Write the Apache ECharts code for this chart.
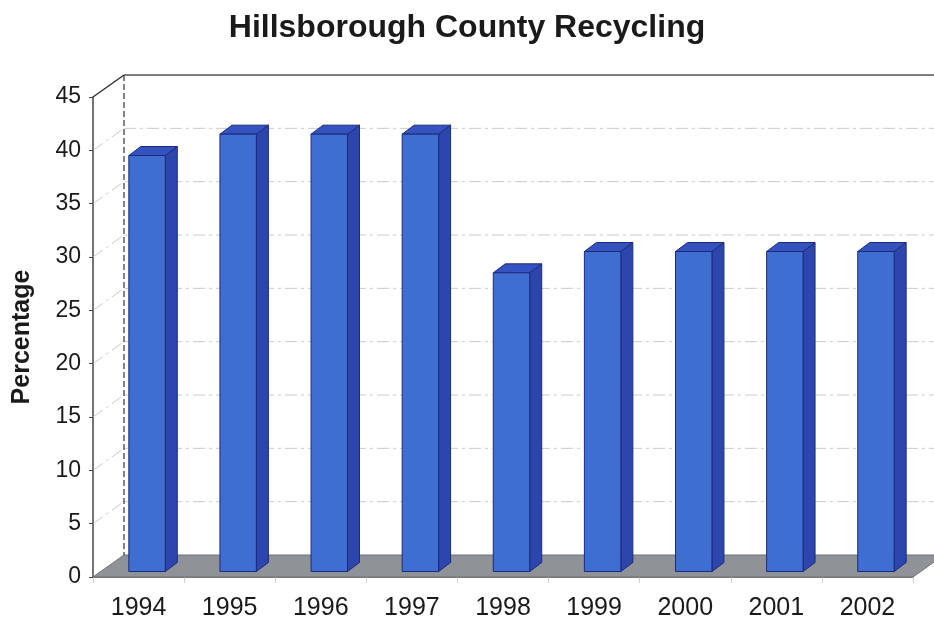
<!DOCTYPE html>
<html>
<head>
<meta charset="utf-8">
<title>Hillsborough County Recycling</title>
<script src="https://cdn.jsdelivr.net/npm/echarts@6/dist/echarts.min.js"></script>
<style>
  html, body { margin: 0; padding: 0; background: #ffffff; }
  #chart { width: 934px; height: 621px; }
</style>
</head>
<body>
<div id="chart"></div>
<script>
// Recycling rate by year (percent)
const years = ['1994', '1995', '1996', '1997', '1998', '1999', '2000', '2001', '2002'];
const recyclingRate = [39, 41, 41, 41, 28, 30, 30, 30, 30];
// Value-axis ticks
const yTicks = [0, 5, 10, 15, 20, 25, 30, 35, 40, 45];

// Oblique projection used for the box walls and the column depth
const WALL_DX = 31, WALL_DY = -22;      // full depth of the chart box
const BAR_SHIFT_X = 8.5;                 // columns sit a little way into the box
const BAR_SHIFT_Y = -5.5;
const BAR_DX = 12, BAR_DY = -9;          // depth of a single column

const FONT = '"Liberation Sans", Arial, Helvetica, sans-serif';
const gridStyle = { stroke: '#b4b4b4', lineWidth: 1, lineDash: [12, 4, 3, 4], opacity: 0.7 };

const chart = echarts.init(document.getElementById('chart'), null, { renderer: 'canvas' });

// Walls: side-wall and back-wall gridlines for every tick, plus floor and edges
function renderGridlines(params, api) {
  const v = api.value(0);
  const cs = params.coordSys;
  const left = cs.x, right = cs.x + cs.width;
  const y = api.coord([0, v])[1];
  const children = [];
  const maxV = yTicks[yTicks.length - 1];
  if (v > 0 && v < maxV) {
    children.push({ type: 'line', shape: { x1: left, y1: y, x2: left + WALL_DX, y2: y + WALL_DY }, style: gridStyle });
    children.push({ type: 'line', shape: { x1: left + WALL_DX, y1: y + WALL_DY, x2: right + WALL_DX, y2: y + WALL_DY }, style: gridStyle });
  }
  if (v === maxV) {
    // top edges of the side wall and back wall
    children.push({ type: 'line', shape: { x1: left, y1: y, x2: left + WALL_DX, y2: y + WALL_DY }, style: { stroke: '#333', lineWidth: 1.5 } });
    children.push({ type: 'line', shape: { x1: left + WALL_DX, y1: y + WALL_DY, x2: right + WALL_DX, y2: y + WALL_DY }, style: { stroke: '#555', lineWidth: 1.5 } });
    // back corner edge
    const y0 = api.coord([0, 0])[1];
    children.push({ type: 'line', shape: { x1: left + WALL_DX, y1: y + WALL_DY, x2: left + WALL_DX, y2: y0 + WALL_DY }, style: { stroke: '#333', lineWidth: 1.2, lineDash: [6, 3] } });
  }
  if (v === 0) {
    // floor
    children.push({
      type: 'polygon',
      shape: { points: [[left, y], [right, y], [right + WALL_DX, y + WALL_DY], [left + WALL_DX, y + WALL_DY]] },
      style: { fill: '#8f9296', stroke: '#6f7175', lineWidth: 1 }
    });
  }
  return { type: 'group', children };
}

// Columns: front, side and top faces
function renderColumn(params, api) {
  const idx = api.value(0);
  const val = api.value(1);
  const base = api.coord([idx, 0]);
  const top = api.coord([idx, val]);
  const bw = api.size([1, 0])[0] * 0.4;
  const x = base[0] + BAR_SHIFT_X - bw / 2;
  const yb = base[1] + BAR_SHIFT_Y;
  const yt = top[1] + BAR_SHIFT_Y;
  const edge = '#1d2a7a';
  return {
    type: 'group',
    children: [
      {
        type: 'polygon',
        shape: { points: [[x + bw, yt], [x + bw + BAR_DX, yt + BAR_DY], [x + bw + BAR_DX, yb + BAR_DY], [x + bw, yb]] },
        style: { fill: '#2d46ad', stroke: edge, lineWidth: 1 }
      },
      {
        type: 'polygon',
        shape: { points: [[x, yt], [x + BAR_DX, yt + BAR_DY], [x + bw + BAR_DX, yt + BAR_DY], [x + bw, yt]] },
        style: { fill: '#3553c0', stroke: edge, lineWidth: 1 }
      },
      {
        type: 'rect',
        shape: { x: x, y: yt, width: bw, height: yb - yt },
        style: { fill: '#3f6ed2', stroke: edge, lineWidth: 1 }
      }
    ]
  };
}

chart.setOption({
  backgroundColor: '#ffffff',
  animation: false,
  title: {
    text: 'Hillsborough County Recycling',
    left: 'center',
    top: 7,
    textStyle: { fontFamily: FONT, fontSize: 32, fontWeight: 'bold', color: '#1a1a1a' }
  },
  grid: { left: 93, right: 21, top: 97, bottom: 44 },
  xAxis: {
    type: 'category',
    data: years,
    boundaryGap: true,
    axisLine: { show: true, lineStyle: { color: '#555', width: 1.5 } },
    axisTick: { show: true, length: 6, lineStyle: { color: '#d0d0d0' } },
    axisLabel: { fontFamily: FONT, fontSize: 25, color: '#1a1a1a', margin: 19 },
    splitLine: { show: false }
  },
  yAxis: {
    type: 'value',
    min: 0,
    max: 45,
    interval: 5,
    name: 'Percentage',
    nameLocation: 'middle',
    nameRotate: 90,
    nameGap: 58,
    nameTextStyle: { fontFamily: FONT, fontSize: 25, fontWeight: 'bold', color: '#1a1a1a' },
    axisLine: { show: true, lineStyle: { color: '#444', width: 1.5 } },
    axisTick: { show: true, length: 4, lineStyle: { color: '#444' } },
    axisLabel: { fontFamily: FONT, fontSize: 23, color: '#1a1a1a', margin: 12 },
    splitLine: { show: false }
  },
  series: [
    {
      type: 'custom',
      name: 'walls',
      renderItem: renderGridlines,
      data: yTicks.map(v => [v]),
      encode: { y: 0 },
      silent: true,
      z: 1
    },
    {
      type: 'custom',
      name: 'Recycling',
      renderItem: renderColumn,
      data: years.map((y, i) => [i, recyclingRate[i]]),
      encode: { x: 0, y: 1 },
      z: 3
    }
  ]
});
</script>
</body>
</html>
